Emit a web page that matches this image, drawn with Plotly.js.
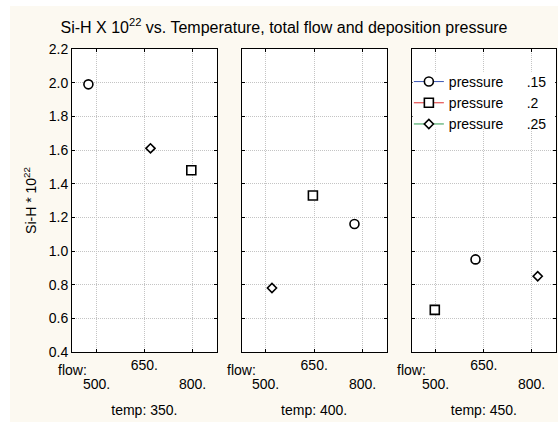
<!DOCTYPE html>
<html><head><meta charset="utf-8">
<script src="https://cdn.plot.ly/plotly-3.0.1.min.js"></script>
<style>
html,body{margin:0;padding:0;background:#ffffff;}
#chart{position:absolute;left:10px;top:6px;width:548px;height:416px;}
</style></head><body><div id="chart"></div>
<script>
// ---- data ----
const temps = ['350.', '400.', '450.'];
const pressureLabels = ['.15', '.2', '.25'];
const flowP15 = [476, 775, 624];
const siHP15  = [1.99, 1.16, 0.95];
const flowP20 = [796, 646, 497];
const siHP20  = [1.48, 1.33, 0.65];
const flowP25 = [669, 519, 818];
const siHP25  = [1.61, 0.78, 0.85];
const flowTickLine1Vals = [650];
const flowTickLine1Text = ['650.'];
const flowTickLine2Vals = [500, 800];
const flowTickLine2Text = ['500.', '800.'];
const yTickVals = [0.4, 0.6, 0.8, 1.0, 1.2, 1.4, 1.6, 1.8, 2.0, 2.2];

// ---- styles ----
const FONT = 'Liberation Sans, Arial, sans-serif';
const symbols = ['circle', 'square', 'diamond'];
const sizes = [9, 9, 7];
const lineColors = ['#3a55b4', '#e03030', '#2e9a50'];
const flows = [flowP15, flowP20, flowP25];
const values = [siHP15, siHP20, siHP25];
const NB = '\u00a0\u00a0\u00a0\u00a0\u00a0\u00a0';
const GRID = {showgrid: true, gridcolor: '#c4c4c4', griddash: '1px,1px', gridwidth: 1};

const traces = [];
for (let p = 0; p < 3; p++) {
  for (let t = 0; t < 3; t++) {
    const sfx = t === 0 ? '' : String(t + 1);
    traces.push({
      type: 'scatter', mode: 'lines+markers',
      x: [flows[p][t]], y: [values[p][t]],
      xaxis: 'x' + sfx, yaxis: 'y' + sfx,
      name: 'pressure' + NB + pressureLabels[p],
      legendgroup: 'p' + p, showlegend: t === 0,
      line: {color: lineColors[p], width: 1},
      marker: {symbol: symbols[p], size: sizes[p], color: '#ffffff',
               line: {color: '#000000', width: 1.6}}
    });
  }
}

const domains = [[0, 0.299], [0.3506, 0.6502], [0.7019, 1]];
const layout = {
  width: 548, height: 416,
  paper_bgcolor: '#fcf9f1', plot_bgcolor: '#ffffff',
  margin: {l: 62, r: 2, t: 43, b: 70},
  font: {family: FONT, size: 14, color: '#000000'},
  showlegend: true,
  title: {text: 'Si-H X 10<sup>22</sup> vs. Temperature, total flow and deposition pressure',
          font: {family: FONT, size: 16, color: '#000'},
          x: 0.5, xanchor: 'center', xref: 'container',
          y: 1 - 21 / 416, yanchor: 'middle', yref: 'container'},
  legend: {x: 0.696, y: 0.944, xanchor: 'left', yanchor: 'top',
           bgcolor: 'rgba(0,0,0,0)', borderwidth: 0,
           font: {family: FONT, size: 14, color: '#000'},
           itemwidth: 30, tracegroupgap: 0},
  annotations: [],
  shapes: [{type: 'rect', xref: 'x3 domain', yref: 'y3 domain',
            x0: 0.006, x1: 0.994, y0: 0.74, y1: 0.925,
            fillcolor: '#ffffff', line: {width: 0}, layer: 'above'}]
};

for (let t = 0; t < 3; t++) {
  const sfx = t === 0 ? '' : String(t + 1);
  layout['xaxis' + sfx] = Object.assign({
    domain: domains[t], range: [425, 875], anchor: 'y' + sfx,
    tickmode: 'array', tickvals: flowTickLine1Vals, ticktext: flowTickLine1Text,
    ticks: 'inside', ticklen: 3, tickcolor: '#000', mirror: 'allticks',
    showline: true, linecolor: '#000', linewidth: 1,
    zeroline: false, tickfont: {family: FONT, size: 14, color: '#000'},
    minor: Object.assign({tickmode: 'array', tickvals: flowTickLine2Vals,
                          ticks: 'inside', ticklen: 3, tickcolor: '#000'}, GRID),
    title: {text: 'temp: ' + temps[t], font: {family: FONT, size: 14, color: '#000'}, standoff: 33},
    fixedrange: true
  }, GRID);
  layout['yaxis' + sfx] = Object.assign({
    domain: [0, 1], range: [0.4, 2.2], anchor: 'x' + sfx,
    tickmode: 'array', tickvals: yTickVals, tickformat: '.1f',
    showticklabels: t === 0,
    ticks: 'inside', ticklen: 3, tickcolor: '#000', mirror: 'allticks',
    showline: true, linecolor: '#000', linewidth: 1,
    zeroline: false, tickfont: {family: FONT, size: 14, color: '#000'},
    fixedrange: true
  }, GRID);
  if (t === 0) {
    layout.yaxis.title = {text: 'Si-H * 10<sup>22</sup>', font: {family: FONT, size: 14, color: '#000'}, standoff: 8};
  }
  layout.annotations.push({
    text: 'flow:', xref: 'x' + sfx + ' domain', yref: 'y' + sfx + ' domain',
    x: 0, y: 0, xanchor: 'center', yanchor: 'top', yshift: -8, showarrow: false,
    font: {family: FONT, size: 14, color: '#000'}
  });
  for (let k = 0; k < flowTickLine2Vals.length; k++) {
    layout.annotations.push({
      text: flowTickLine2Text[k], xref: 'x' + sfx, yref: 'y' + sfx + ' domain',
      x: flowTickLine2Vals[k], y: 0, xanchor: 'center', yanchor: 'top', yshift: -22,
      showarrow: false, font: {family: FONT, size: 14, color: '#000'}
    });
  }
}

Plotly.newPlot('chart', traces, layout, {displayModeBar: false, staticPlot: true});
</script></body></html>
